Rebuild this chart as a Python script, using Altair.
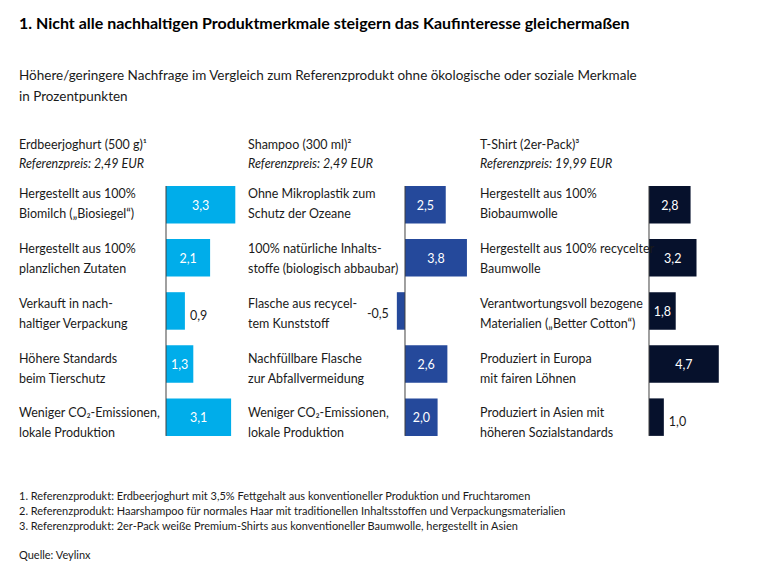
import altair as alt
import pandas as pd

FONT = "Lato"

title_text = "1. Nicht alle nachhaltigen Produktmerkmale steigern das Kaufinteresse gleichermaßen"
subtitle_lines = [
    "Höhere/geringere Nachfrage im Vergleich zum Referenzprodukt ohne ökologische oder soziale Merkmale",
    "in Prozentpunkten",
]

products = ["Erdbeerjoghurt (500 g)¹", "Shampoo (300 ml)²", "T-Shirt (2er-Pack)³"]
prices = ["Referenzpreis: 2,49 EUR", "Referenzpreis: 2,49 EUR", "Referenzpreis: 19,99 EUR"]

labels_joghurt = [
    "Hergestellt aus 100%|Biomilch („Biosiegel“)",
    "Hergestellt aus 100%|planzlichen Zutaten",
    "Verkauft in nach-|haltiger Verpackung",
    "Höhere Standards|beim Tierschutz",
    "Weniger CO₂-Emissionen,|lokale Produktion",
]
values_joghurt = [3.3, 2.1, 0.9, 1.3, 3.1]

labels_shampoo = [
    "Ohne Mikroplastik zum|Schutz der Ozeane",
    "100% natürliche Inhalts-|stoffe (biologisch abbaubar)",
    "Flasche aus recycel-|tem Kunststoff",
    "Nachfüllbare Flasche|zur Abfallvermeidung",
    "Weniger CO₂-Emissionen,|lokale Produktion",
]
values_shampoo = [2.5, 3.8, -0.5, 2.6, 2.0]

labels_tshirt = [
    "Hergestellt aus 100%|Biobaumwolle",
    "Hergestellt aus 100% recycelter|Baumwolle",
    "Verantwortungsvoll bezogene|Materialien („Better Cotton“)",
    "Produziert in Europa|mit fairen Löhnen",
    "Produziert in Asien mit|höheren Sozialstandards",
]
values_tshirt = [2.8, 3.2, 1.8, 4.7, 1.0]

footnotes = [
    "1. Referenzprodukt: Erdbeerjoghurt mit 3,5% Fettgehalt aus konventioneller Produktion und Fruchtaromen",
    "2. Referenzprodukt: Haarshampoo für normales Haar mit traditionellen Inhaltsstoffen und Verpackungsmaterialien",
    "3. Referenzprodukt: 2er-Pack weiße Premium-Shirts aus konventioneller Baumwolle, hergestellt in Asien",
]
source = "Quelle: Veylinx"

colors = ["#00ADEA", "#25499B", "#06112C"]

ROW_STEP = 53.1
BAR_H = 37.5
PLOT_H = 4 * ROW_STEP + BAR_H
LABEL_STEP = 54.8
LABEL_TOP = 8.3
LABEL_SIZE = 12.5
TXT = "#1a1a1a"


def panel(name, price, labels, values, color, axis_px, ppu, width, notes=None):
    df = pd.DataFrame({"idx": list(range(len(labels))), "label": labels, "v": values})
    xs = alt.Scale(domain=[-axis_px / ppu, (width - axis_px) / ppu], nice=False, zero=False)
    ys = alt.Scale(paddingInner=1 - BAR_H / ROW_STEP, paddingOuter=0)
    Y = alt.Y("idx:O", scale=ys, axis=None)
    lab0 = -LABEL_TOP / LABEL_STEP
    Ylab = alt.Y(
        "idx:Q",
        scale=alt.Scale(domain=[lab0, lab0 + PLOT_H / LABEL_STEP], reverse=True,
                        nice=False, zero=False),
        axis=None,
    )
    base = alt.Chart(df).transform_calculate(
        txt="replace(replace(format(datum.v, '.1f'), '.', ','), '\u2212', '-')",
        mid="datum.v / 2",
    )
    bars = base.mark_bar(color=color).encode(
        x=alt.X("v:Q", scale=xs, axis=None), y=Y
    )
    rule = base.transform_filter("datum.idx == 0").mark_rule(
        color="#404040", strokeWidth=1
    ).encode(x=alt.datum(0))
    cat = base.mark_text(
        align="left", baseline="middle", lineBreak="|", font=FONT,
        fontSize=LABEL_SIZE, lineHeight=20, color=TXT
    ).encode(x=alt.value(0), y=Ylab, text="label:N")
    inside = base.transform_filter("abs(datum.v) >= 1.2").mark_text(
        align="center", baseline="middle", font=FONT, fontSize=LABEL_SIZE,
        color="white", dy=1
    ).encode(x="mid:Q", y=Y, text="txt:N")
    out_pos = base.transform_filter("datum.v > 0 && datum.v < 1.2").mark_text(
        align="left", baseline="middle", font=FONT, fontSize=LABEL_SIZE,
        color=TXT, dx=5, dy=5
    ).encode(x="v:Q", y=Y, text="txt:N")
    out_neg = base.transform_filter("datum.v < 0 && datum.v > -1.2").mark_text(
        align="right", baseline="middle", font=FONT, fontSize=LABEL_SIZE,
        color=TXT, dx=-8, dy=3
    ).encode(x="v:Q", y=Y, text="txt:N")
    layers = [bars, rule, inside, out_pos, out_neg]
    if notes is not None:
        note_df = pd.DataFrame({"t": ["\n".join(notes[0])], "s": [notes[1]]})
        nb = alt.Chart(note_df)
        layers.append(nb.mark_text(
            align="left", baseline="top", lineBreak="\n", font=FONT, fontSize=11,
            lineHeight=15, color=TXT
        ).encode(x=alt.value(0), y=alt.value(PLOT_H + 55), text="t:N"))
        layers.append(nb.mark_text(
            align="left", baseline="top", font=FONT, fontSize=11, color=TXT
        ).encode(x=alt.value(0), y=alt.value(PLOT_H + 114), text="s:N"))
    main = alt.layer(*layers)
    return alt.layer(main, cat).resolve_scale(y="independent").properties(
        width=width,
        height=PLOT_H,
        title=alt.TitleParams(
            text=name, subtitle=price, anchor="start", font=FONT,
            fontSize=LABEL_SIZE, fontWeight="normal", color=TXT,
            subtitleFont=FONT, subtitleFontSize=LABEL_SIZE,
            subtitleFontStyle="italic", subtitleColor=TXT,
            subtitlePadding=6, offset=15,
        ),
    )


p1 = panel(products[0], prices[0], labels_joghurt, values_joghurt, colors[0], 147, 21.0, 229,
           notes=(footnotes, source))
p2 = panel(products[1], prices[1], labels_shampoo, values_shampoo, colors[1], 157, 16.3, 232)
p3 = panel(products[2], prices[2], labels_tshirt, values_tshirt, colors[2], 169, 14.85, 260)

chart = alt.hconcat(p1, p2, p3, spacing=0, bounds="flush").properties(
    title=alt.TitleParams(
        text=title_text, subtitle=subtitle_lines, anchor="start", font=FONT,
        fontSize=16, fontWeight="bold", color="#000000",
        subtitleFont=FONT, subtitleFontSize=13.5, subtitleColor=TXT,
        subtitlePadding=37, subtitleLineHeight=20.5, offset=36,
    ),
    padding={"left": 11, "top": 8, "right": 5, "bottom": 0},
).configure_view(stroke=None)

chart.save("out.html", embed_options={"renderer": "svg", "actions": False})
